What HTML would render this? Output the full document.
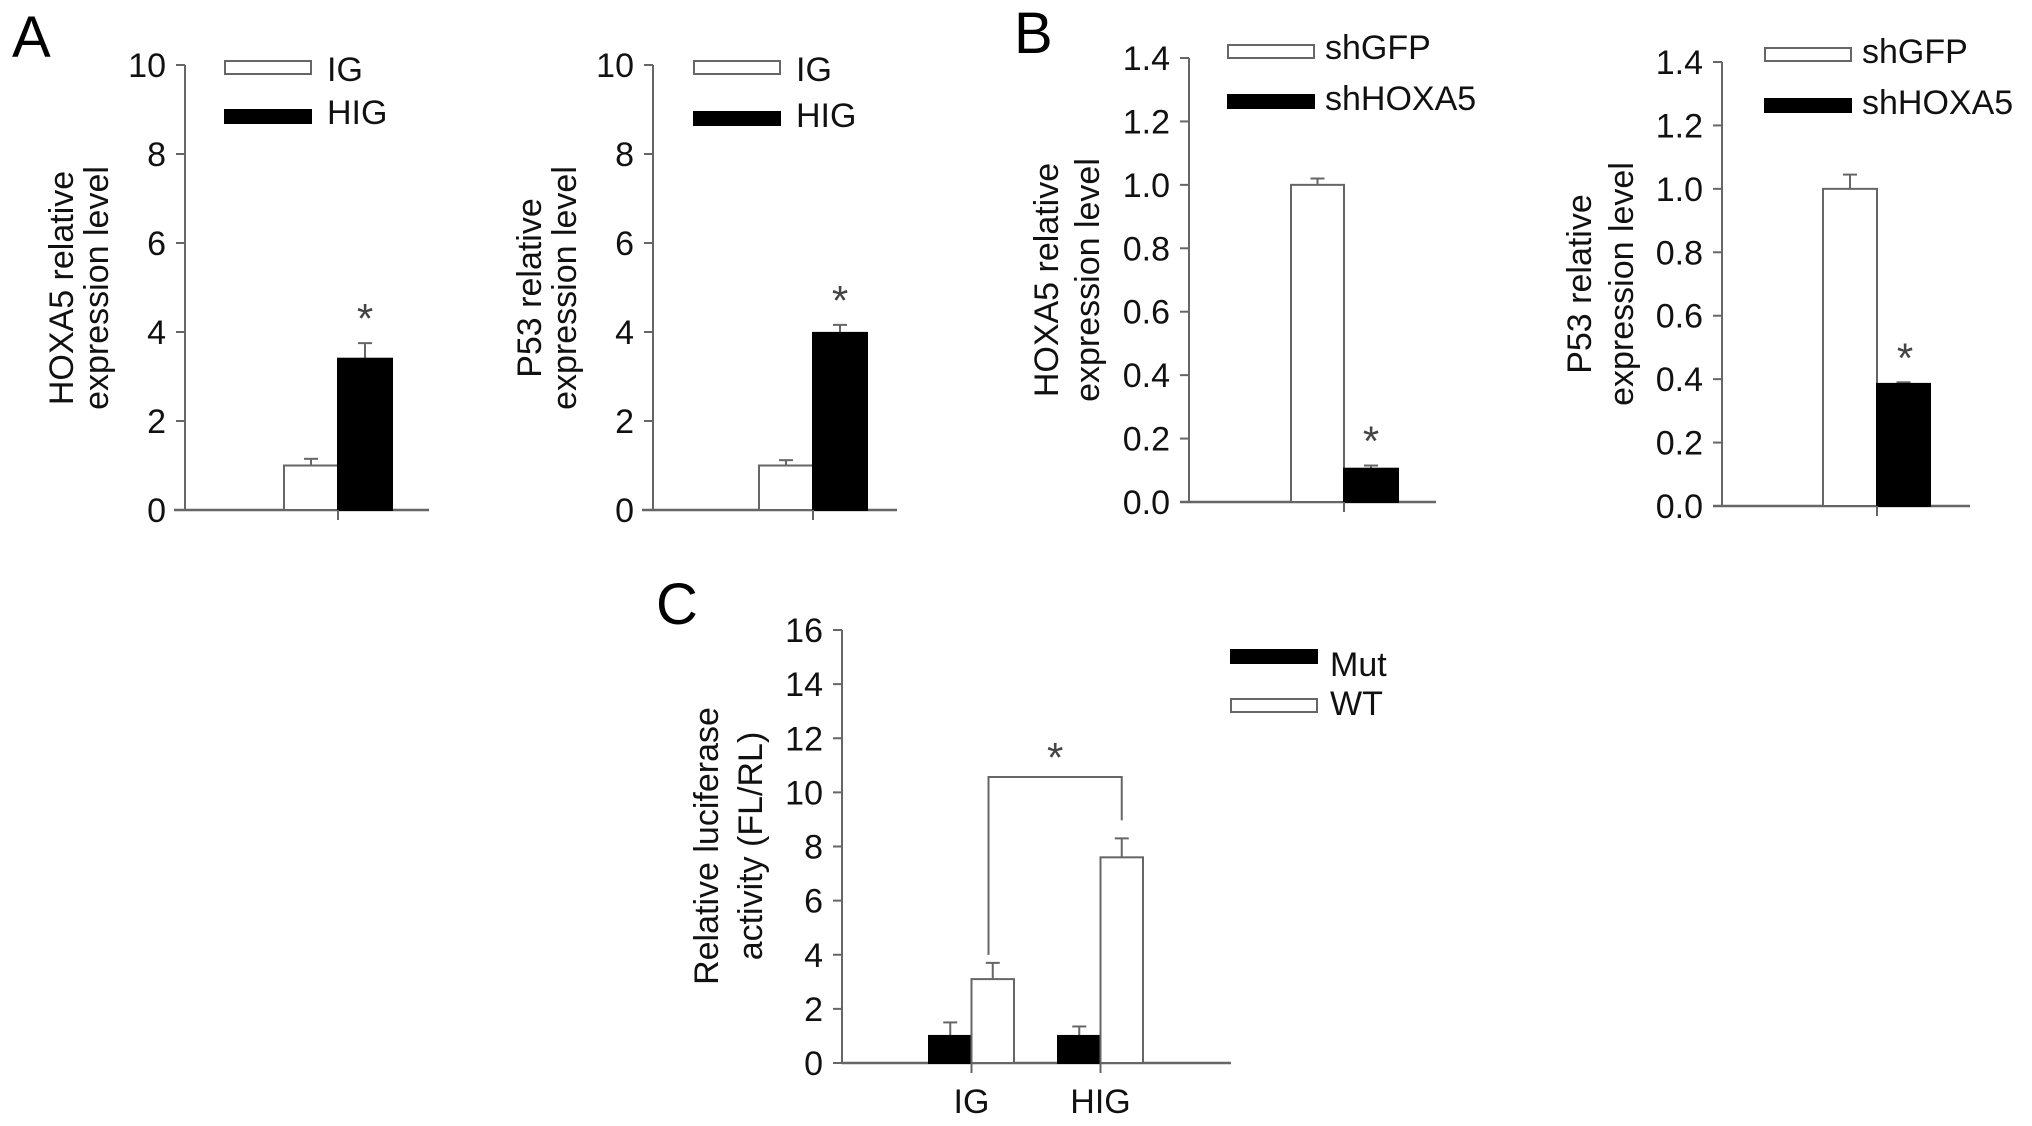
<!DOCTYPE html>
<html><head><meta charset="utf-8"><style>
html,body{margin:0;padding:0;background:#fff;}
svg{display:block;font-family:"Liberation Sans",Arial,sans-serif;}
</style></head><body>
<svg id="fig" width="2032" height="1126" viewBox="0 0 2032 1126" xmlns="http://www.w3.org/2000/svg">
<rect width="2032" height="1126" fill="#fff"/>
<text x="12" y="57" font-size="58">A</text>
<text x="1014" y="53" font-size="58">B</text>
<text x="656" y="624" font-size="58">C</text>
</svg>
<script>
// Panel A1 (HOXA5, IG vs HIG)
const a1Values = [1.0, 3.4];
const a1Errors = [0.15, 0.35];
const a1Ticks = [0, 2, 4, 6, 8, 10];
// Panel A2 (P53, IG vs HIG)
const a2Values = [1.0, 3.98];
const a2Errors = [0.12, 0.18];
const a2Ticks = [0, 2, 4, 6, 8, 10];
// Panel B1 (HOXA5, shGFP vs shHOXA5)
const b1Values = [1.0, 0.105];
const b1Errors = [0.02, 0.01];
const bTickLabels = ["0.0","0.2","0.4","0.6","0.8","1.0","1.2","1.4"];
const bTicks = [0, 0.2, 0.4, 0.6, 0.8, 1.0, 1.2, 1.4];
// Panel B2 (P53, shGFP vs shHOXA5)
const b2Values = [1.0, 0.385];
const b2Errors = [0.045, 0.005];
// Panel C (luciferase)
const cCategories = ["IG", "HIG"];
const cMut = [1.0, 1.0];
const cMutErr = [0.5, 0.35];
const cWT = [3.1, 7.6];
const cWTErr = [0.6, 0.7];
const cTicks = [0, 2, 4, 6, 8, 10, 12, 14, 16];

const svg = document.getElementById('fig');
const NS = 'http://www.w3.org/2000/svg';
const GREY = '#666';
const TICKFONT = 34;
const TITLEFONT = 34;
const LEGFONT = 34;
function el(tag, attrs, text) {
  const e = document.createElementNS(NS, tag);
  for (const k in attrs) e.setAttribute(k, attrs[k]);
  if (text !== undefined) e.textContent = text;
  svg.appendChild(e);
  return e;
}
function yScale(ax, v) { return ax.y0 - (v / ax.max) * (ax.y0 - ax.yTop); }

function drawAxes(ax, ticks, labels, name) {
  let e = el('line', {x1: ax.x, y1: ax.yTop, x2: ax.x, y2: ax.y0, stroke: GREY, 'stroke-width': 2});
  
  
  e = el('line', {x1: ax.xStart, y1: ax.y0, x2: ax.xEnd, y2: ax.y0, stroke: GREY, 'stroke-width': 2.5});
  
  
  ticks.forEach((t, i) => {
    const y = yScale(ax, t);
    const tk = el('line', {x1: ax.x - 9, y1: y, x2: ax.x, y2: y, stroke: GREY, 'stroke-width': 2});
    
    
    const lb = el('text', {x: ax.x - 19, y: y + 12, 'font-size': TICKFONT, 'text-anchor': 'end', fill: '#111'}, labels ? labels[i] : String(t));
    
    
  });
}
function yTitle(x1, x2, cy, l1, l2, name) {
  const t1 = el('text', {x: x1, y: cy, 'font-size': TITLEFONT, 'text-anchor': 'middle', fill: '#111', transform: `rotate(-90 ${x1} ${cy})`}, l1);
  
  
  const t2 = el('text', {x: x2, y: cy, 'font-size': TITLEFONT, 'text-anchor': 'middle', fill: '#111', transform: `rotate(-90 ${x2} ${cy})`}, l2);
  
  
}
function bar(ax, xl, xr, v, err, fill, name) {
  const y = yScale(ax, v);
  const cx = (xl + xr) / 2;
  if (err > 0) {
    const ye = yScale(ax, v + err);
    const l = el('line', {x1: cx, y1: y, x2: cx, y2: ye, stroke: GREY, 'stroke-width': 2});
    
    
    const c = el('line', {x1: cx - 7, y1: ye, x2: cx + 7, y2: ye, stroke: GREY, 'stroke-width': 2});
    
    
  }
  const r = el('rect', {x: xl, y: y, width: xr - xl, height: ax.y0 - y, fill: fill, stroke: fill === '#000' ? '#000' : GREY, 'stroke-width': 2});
  
  
}
function legendItem(x, y1, y2, fill, tx, ty, label, name) {
  const r = el('rect', {x: x, y: y1, width: 86, height: y2 - y1, fill: fill, stroke: fill === '#000' ? '#000' : GREY, 'stroke-width': 2});
  
  
  const t = el('text', {x: tx, y: ty, 'font-size': LEGFONT, fill: '#111'}, label);
  
  
}
function star(x, y, name) {
  const s = el('text', {x: x, y: y + 4, 'font-size': 42, 'text-anchor': 'middle', fill: '#444'}, '*');
  
  
}
function catTick(ax, x, name) {
  const t = el('line', {x1: x, y1: ax.y0, x2: x, y2: ax.y0 + 10, stroke: GREY, 'stroke-width': 2});
  
  
}

// ---- A1
const axA1 = {x: 185, yTop: 65, y0: 510, max: 10, xStart: 174, xEnd: 429};
drawAxes(axA1, a1Ticks, null, 'a1');
bar(axA1, 284, 338, a1Values[0], a1Errors[0], '#fff', 'a1-bar-ig');
bar(axA1, 338, 392, a1Values[1], a1Errors[1], '#000', 'a1-bar-hig');
catTick(axA1, 338, 'a1-x-tick');
star(365, yScale(axA1, a1Values[1] + a1Errors[1]) - 14, 'a1-significance-star');
yTitle(73, 108, 288, 'HOXA5 relative', 'expression level', 'a1');
legendItem(225, 61, 74, '#fff', 327, 81, 'IG', 'a1-legend-ig');
legendItem(225, 110, 123, '#000', 327, 124, 'HIG', 'a1-legend-hig');

// ---- A2
const axA2 = {x: 653, yTop: 65, y0: 510, max: 10, xStart: 642, xEnd: 897};
drawAxes(axA2, a2Ticks, null, 'a2');
bar(axA2, 759, 813, a2Values[0], a2Errors[0], '#fff', 'a2-bar-ig');
bar(axA2, 813, 867, a2Values[1], a2Errors[1], '#000', 'a2-bar-hig');
catTick(axA2, 813, 'a2-x-tick');
star(840, yScale(axA2, a2Values[1] + a2Errors[1]) - 14, 'a2-significance-star');
yTitle(541, 576, 288, 'P53 relative', 'expression level', 'a2');
legendItem(694, 61, 74, '#fff', 796, 81, 'IG', 'a2-legend-ig');
legendItem(694, 112, 125, '#000', 796, 127, 'HIG', 'a2-legend-hig');

// ---- B1
const axB1 = {x: 1189, yTop: 58, y0: 502, max: 1.4, xStart: 1180, xEnd: 1436};
drawAxes(axB1, bTicks, bTickLabels, 'b1');
bar(axB1, 1291, 1344, b1Values[0], b1Errors[0], '#fff', 'b1-bar-shgfp');
bar(axB1, 1344, 1398, b1Values[1], b1Errors[1], '#000', 'b1-bar-shhoxa5');
catTick(axB1, 1344, 'b1-x-tick');
star(1371, yScale(axB1, b1Values[1] + b1Errors[1]) - 14, 'b1-significance-star');
yTitle(1058, 1099, 280, 'HOXA5 relative', 'expression level', 'b1');
legendItem(1228, 45, 58, '#fff', 1325, 59, 'shGFP', 'b1-legend-shgfp');
legendItem(1228, 95, 108, '#000', 1325, 110, 'shHOXA5', 'b1-legend-shhoxa5');

// ---- B2
const axB2 = {x: 1722, yTop: 62, y0: 506, max: 1.4, xStart: 1713, xEnd: 1970};
drawAxes(axB2, bTicks, bTickLabels, 'b2');
bar(axB2, 1823, 1877, b2Values[0], b2Errors[0], '#fff', 'b2-bar-shgfp');
bar(axB2, 1877, 1930, b2Values[1], b2Errors[1], '#000', 'b2-bar-shhoxa5');
catTick(axB2, 1877, 'b2-x-tick');
star(1905, yScale(axB2, b2Values[1] + b2Errors[1]) - 14, 'b2-significance-star');
yTitle(1591, 1633, 284, 'P53 relative', 'expression level', 'b2');
legendItem(1765, 48, 61, '#fff', 1862, 63, 'shGFP', 'b2-legend-shgfp');
legendItem(1765, 99, 112, '#000', 1862, 114, 'shHOXA5', 'b2-legend-shhoxa5');

// ---- C
const axC = {x: 842, yTop: 630, y0: 1063, max: 16, xStart: 842, xEnd: 1231};
drawAxes(axC, cTicks, null, 'c');
const cGroupLeft = [929, 1058];
const bw = 42.5;
cCategories.forEach((cat, i) => {
  const xl = cGroupLeft[i];
  bar(axC, xl, xl + bw, cMut[i], cMutErr[i], '#000', 'c-bar-mut-' + cat.toLowerCase());
  bar(axC, xl + bw, xl + 2 * bw, cWT[i], cWTErr[i], '#fff', 'c-bar-wt-' + cat.toLowerCase());
  catTick(axC, xl + bw, 'c-x-tick-' + cat.toLowerCase());
  const t = el('text', {x: xl + bw, y: 1113, 'font-size': TICKFONT, 'text-anchor': 'middle', fill: '#111'}, cat);
  
  
});
// significance bracket between WT bars
const bx1 = cGroupLeft[0] + bw * 1.4, bx2 = cGroupLeft[1] + bw * 1.5;
const byTop = 777;
const br = el('path', {d: `M${bx1} ${yScale(axC, cWT[0] + cWTErr[0]) - 8} V${byTop} H${bx2} V${yScale(axC, cWT[1] + cWTErr[1]) - 18}`, fill: 'none', stroke: GREY, 'stroke-width': 2});


star((bx1 + bx2) / 2, 768, 'c-significance-star');
yTitle(718, 762, 846, 'Relative luciferase', 'activity (FL/RL)', 'c');
legendItem(1231, 650, 663, '#000', 1330, 676, 'Mut', 'c-legend-mut');
legendItem(1231, 699, 712, '#fff', 1330, 715, 'WT', 'c-legend-wt');
</script>
</body></html>
